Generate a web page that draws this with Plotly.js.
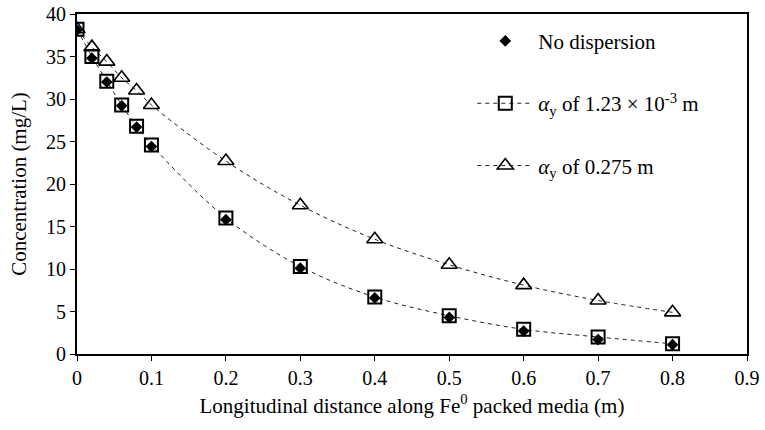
<!DOCTYPE html>
<html>
<head>
<meta charset="utf-8">
<script src="https://cdn.plot.ly/plotly-3.0.1.min.js"></script>
<style>html,body{margin:0;padding:0;background:#fff;}#chart{width:765px;height:430px;}</style>
</head>
<body>
<div id="chart"></div>
<script>
const distance = [0, 0.02, 0.04, 0.06, 0.08, 0.1, 0.2, 0.3, 0.4, 0.5, 0.6, 0.7, 0.8];
const noDispersion = [38.1, 34.8, 32.0, 29.2, 26.7, 24.4, 15.8, 10.1, 6.6, 4.3, 2.7, 1.7, 1.1];
const alphaSmall = [38.2, 35.0, 32.1, 29.3, 26.8, 24.6, 16.0, 10.3, 6.7, 4.5, 2.9, 2.0, 1.2];
const alphaLarge = [38.2, 36.1, 34.4, 32.5, 31.0, 29.3, 22.7, 17.5, 13.5, 10.5, 8.1, 6.3, 4.9];
const names = ['No dispersion', '<i>α</i><sub>y</sub> of 1.23 × 10<sup>-3</sup> m', '<i>α</i><sub>y</sub> of 0.275 m'];

const serif = 'Liberation Serif';
const traces = [
  {x: distance, y: alphaLarge, name: names[2], mode: 'lines+markers', legendrank: 3, legendgroup: 'c',
   line: {color: '#222', width: 1, dash: '4px,4px', shape: 'spline'},
   marker: {symbol: 'triangle-up-open', size: 14, color: '#000', line: {width: 1.6, color: '#000'}}},
  {x: distance, y: alphaSmall, name: names[1], mode: 'lines+markers', legendrank: 2, legendgroup: 'b',
   line: {color: '#222', width: 1, dash: '4px,4px', shape: 'spline'},
   marker: {symbol: 'square-open', size: 13, color: '#000', line: {width: 2, color: '#000'}}},
  {x: distance, y: noDispersion, name: names[0], mode: 'markers', legendrank: 1, legendgroup: 'a',
   marker: {symbol: 'diamond', size: 9, color: '#000'}}
];

const layout = {
  width: 765, height: 430,
  margin: {l: 77, r: 18, t: 14, b: 76},
  paper_bgcolor: '#fff', plot_bgcolor: '#fff',
  font: {family: serif, size: 20, color: '#000'},
  showlegend: true,
  legend: {x: 0.59, y: 0.98, xanchor: 'left', yanchor: 'top', bgcolor: 'rgba(0,0,0,0)',
           font: {family: serif, size: 21, color: '#000'}, tracegroupgap: 32, itemwidth: 56},
  xaxis: {range: [0, 0.9], dtick: 0.1, tick0: 0, showgrid: false, zeroline: false,
          showline: true, linecolor: '#000', linewidth: 2, mirror: true,
          ticks: 'outside', ticklen: 5, tickcolor: '#000', tickwidth: 1,
          tickfont: {family: serif, size: 20},
          title: {text: 'Longitudinal distance along Fe<sup>0</sup> packed media (m)', font: {family: serif, size: 21}, standoff: 10}},
  yaxis: {range: [0, 40], dtick: 5, tick0: 0, showgrid: false, zeroline: false,
          showline: true, linecolor: '#000', linewidth: 2, mirror: true,
          ticks: 'outside', ticklen: 5, tickcolor: '#000', tickwidth: 1,
          tickfont: {family: serif, size: 20},
          title: {text: 'Concentration (mg/L)', font: {family: serif, size: 21}, standoff: 14}}
};

Plotly.newPlot('chart', traces, layout, {displayModeBar: false, staticPlot: true});
</script>
</body>
</html>
